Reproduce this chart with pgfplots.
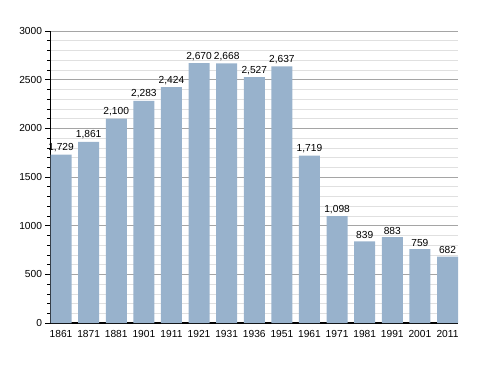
\documentclass[border=0pt]{standalone}
\usepackage{pgfplots}
\pgfplotsset{compat=1.18}
\usepackage{fontspec}
\setmainfont{Liberation Sans}
\definecolor{barc}{RGB}{152,178,204}
\definecolor{majg}{RGB}{165,165,165}
\definecolor{ming}{RGB}{224,224,224}
\begin{document}
\begin{tikzpicture}
\path (0,0) rectangle (488pt,373pt);
\begin{axis}[
  at={(50pt,50pt)}, anchor=south west,
  scale only axis, width=408pt, height=292pt,
  xmin=-0.4, xmax=14.38, ymin=0, ymax=3000,
  axis x line*=bottom, axis y line*=left,
  axis line style={-},
  x axis line style={line width=1.2pt},
  xtick={0,...,14},
  xticklabels={1861,1871,1881,1901,1911,1921,1931,1936,1951,1961,1971,1981,1991,2001,2011},
  xtick style={draw=none},
  xticklabel style={yshift=1pt},
  ytick={0,500,...,3000},
  minor y tick num=4,
  ymajorgrids, yminorgrids,
  major grid style={majg, line width=0.6pt},
  minor grid style={ming, line width=0.6pt},
  tick align=outside,
  major tick length=4.5pt, minor tick length=2.5pt,
  ytick style={black, line width=0.6pt},
  every tick label/.style={font=\fontsize{10.2}{12}\selectfont},
  /pgf/number format/assume math mode=true,
  yticklabel style={/pgf/number format/1000 sep={}},
  ybar, bar width=21pt, bar shift=0pt,
  nodes near coords,
  every node near coord/.append style={font=\fontsize{10.2}{12}\selectfont, /pgf/number format/1000 sep={,}, inner sep=2.5pt},
]
\addplot[fill=barc, draw=none] coordinates {
(0,1729) (1,1861) (2,2100) (3,2283) (4,2424) (5,2670) (6,2668) (7,2527) (8,2637) (9,1719) (10,1098) (11,839) (12,883) (13,759) (14,682)};
\end{axis}
\end{tikzpicture}
\end{document}
